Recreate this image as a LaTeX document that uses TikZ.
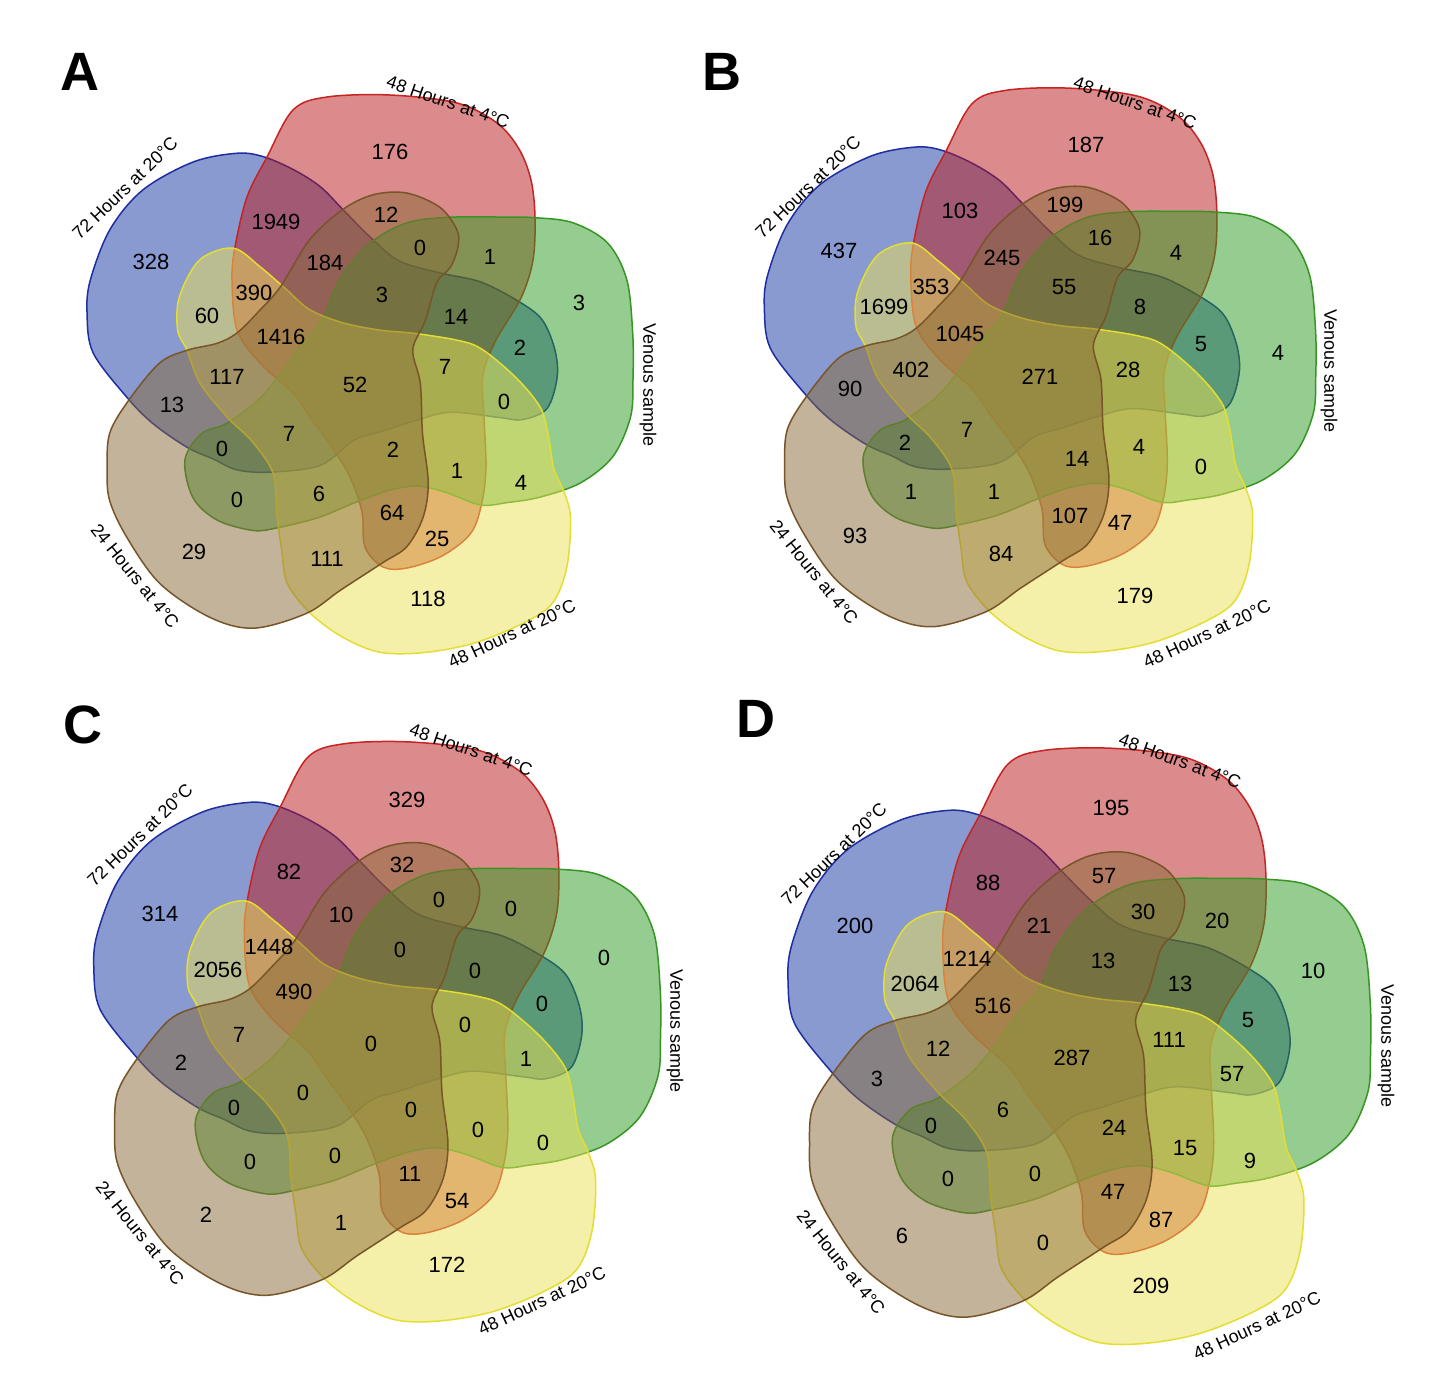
\documentclass[tikz,border=0pt]{standalone}
\usepackage{fontspec}
\setmainfont{Liberation Sans}
\definecolor{bfill}{RGB}{21,55,165}
\definecolor{bline}{RGB}{30,45,160}
\definecolor{rfill}{RGB}{185,25,25}
\definecolor{rline}{RGB}{200,35,35}
\definecolor{gfill}{RGB}{45,155,35}
\definecolor{gline}{RGB}{55,150,35}
\definecolor{yfill}{RGB}{235,225,85}
\definecolor{yline}{RGB}{228,222,50}
\definecolor{nfill}{RGB}{135,105,55}
\definecolor{nline}{RGB}{120,85,40}
\tikzset{
  vset/.style={line width=1.5pt, fill opacity=0.5},
  num/.style={font=\fontsize{22}{22}\selectfont, inner sep=0pt},
  setlab/.style={font=\fontsize{18}{18}\selectfont, inner sep=0pt},
  plet/.style={font=\fontsize{54}{54}\selectfont\bfseries, inner sep=0pt},
}
% each set outline, given in the upright (red) orientation around the centre
\newcommand\blueset{\path[vset, rotate=72, fill=bfill, draw=bline] plot[smooth cycle, tension=0.55] coordinates {
 (8,-282) (62,-279) (110,-260) (152,-221) (174,-182) (179,-156) (176,-123) (168,-92)
 (153,-63) (136,-30) (122,5) (123,48) (127,90) (120,133) (110,160) (86,181) (60,192)
 (27,192) (9,172) (4,150) (-6,102) (-24,72) (-47,40) (-63,18) (-97,-6) (-119,-52)
 (-127,-84) (-124,-110) (-121,-138) (-109,-178) (-92,-211) (-60,-257) (-24,-275)};}
\newcommand\redset{\path[vset, fill=rfill, draw=rline] plot[smooth cycle, tension=0.55] coordinates {
 (34,-280) (101,-272) (141,-252) (163,-226) (175,-195) (179,-158) (177,-115)
 (165,-77) (140,-35) (127,0) (128,42) (130,92) (126,127) (115,158) (86,181)
 (51,193) (27,192) (9,172) (6,137) (-6,102) (-24,72) (-44,45) (-63,18) (-96,-12)
 (-119,-45) (-124,-95) (-121,-128) (-109,-178) (-89,-218) (-63,-265) (-29,-278)};}
\newcommand\greenset{\path[vset, rotate=-72, fill=gfill, draw=gline] plot[smooth cycle, tension=0.55] coordinates {
 (-7,-287) (46,-276) (90,-262) (125,-248) (157,-219) (172,-180) (173,-137) (168,-104)
 (162,-78) (140,-50) (125,-25) (120,3) (121,40) (124,80) (121,122) (116,146) (95,177)
 (66,193) (28,189) (8,165) (6,138) (-6,102) (-24,72) (-44,45) (-63,15) (-96,-14)
 (-121,-54) (-129,-96) (-121,-138) (-106,-185) (-95,-217) (-78,-253) (-48,-280)};}
\newcommand\yellowset{\path[vset, rotate=-144, fill=yfill, draw=yline] plot[smooth cycle, tension=0.55] coordinates {
 (-25,-300) (11,-299) (63,-286) (109,-264) (144,-238) (165,-204) (177,-166) (178,-128)
 (163,-98) (147,-68) (125,-31) (123,6) (129,42) (131,85) (122,120) (118,141) (97,167)
 (59,185) (25,175) (14,144) (6,110) (-1,80) (-20,50) (-46,22) (-71,0) (-102,-31)
 (-117,-53) (-128,-97) (-130,-135) (-120,-162) (-105,-192) (-100,-215) (-90,-241) (-58,-279)};}
\newcommand\brownset{\path[vset, rotate=144, fill=nfill, draw=nline] plot[smooth cycle, tension=0.55] coordinates {
 (-24,-282) (36,-284) (90,-266) (126,-246) (147,-221) (165,-192) (169,-156) (166,-106)
 (151,-79) (131,-56) (121,-36) (116,-5) (113,27) (117,82) (108,126) (92,156) (66,177)
 (31,185) (4,177) (-7,164) (-13,143) (-11,122) (-24,85) (-31,54) (-57,31) (-88,-8)
 (-122,-45) (-138,-76) (-142,-109) (-132,-136) (-114,-183) (-100,-222) (-66,-265)};}
\newcommand\vennfive[2]{%
 \begin{scope}[shift={#1}, scale=#2]
  \blueset \redset \greenset \yellowset \brownset
 \end{scope}}
\begin{document}
\begin{tikzpicture}[x=1pt,y=-1pt]
\useasboundingbox (0,0) rectangle (1446,1390);
\fill[white] (0,0) rectangle (1446,1390);
\vennfive{(356,375)}{1}
\vennfive{(1036,371)}{1.01}
\vennfive{(373,1032.5)}{1.038}
\vennfive{(1075,1047)}{1.067}
% panel letters
\node[plet] (pA) at (80,72) {A};
\node[plet] (pB) at (722,72) {B};
\node[plet] (pC) at (83,725) {C};
\node[plet] (pD) at (756,719) {D};
% set labels A
\node[setlab,rotate=44] (aL1) at (125,188) {72 Hours at 20°C};
\node[setlab,rotate=-19] (aL2) at (448,102) {48 Hours at 4°C};
\node[setlab,rotate=-90] (aL3) at (648,385) {Venous sample};
\node[setlab,rotate=-51] (aL4) at (135,576) {24 Hours at 4°C};
\node[setlab,rotate=25] (aL5) at (512,634) {48 Hours at 20°C};
% set labels B
\node[setlab,rotate=44] (bL1) at (808,187) {72 Hours at 20°C};
\node[setlab,rotate=-19] (bL2) at (1135,103) {48 Hours at 4°C};
\node[setlab,rotate=-90] (bL3) at (1329,371) {Venous sample};
\node[setlab,rotate=-51] (bL4) at (814,572) {24 Hours at 4°C};
\node[setlab,rotate=25] (bL5) at (1207,634) {48 Hours at 20°C};
% set labels C
\node[setlab,rotate=44] (cL1) at (140,835) {72 Hours at 20°C};
\node[setlab,rotate=-19] (cL2) at (471,750) {48 Hours at 4°C};
\node[setlab,rotate=-90] (cL3) at (675,1031) {Venous sample};
\node[setlab,rotate=-51] (cL4) at (140,1233) {24 Hours at 4°C};
\node[setlab,rotate=25] (cL5) at (542,1301) {48 Hours at 20°C};
% set labels D
\node[setlab,rotate=44] (dL1) at (834,854) {72 Hours at 20°C};
\node[setlab,rotate=-20] (dL2) at (1180,761) {48 Hours at 4°C};
\node[setlab,rotate=-90] (dL3) at (1386,1046) {Venous sample};
\node[setlab,rotate=-51] (dL4) at (841,1262) {24 Hours at 4°C};
\node[setlab,rotate=25] (dL5) at (1257,1326) {48 Hours at 20°C};
% numbers A
\node[num] (a1) at (390,152) {176};
\node[num] (a2) at (276,222) {1949};
\node[num] (a3) at (386,215) {12};
\node[num] (a4) at (151,262) {328};
\node[num] (a5) at (325,263) {184};
\node[num] (a6) at (420,248) {0};
\node[num] (a7) at (490,257) {1};
\node[num] (a8) at (579,303) {3};
\node[num] (a9) at (207,316) {60};
\node[num] (a10) at (254,293) {390};
\node[num] (a11) at (382,295) {3};
\node[num] (a12) at (456,317) {14};
\node[num] (a13) at (281,337) {1416};
\node[num] (a14) at (520,348) {2};
\node[num] (a15) at (227,377) {117};
\node[num] (a16) at (355,385) {52};
\node[num] (a17) at (445,367) {7};
\node[num] (a18) at (172,405) {13};
\node[num] (a19) at (504,402) {0};
\node[num] (a20) at (289,434) {7};
\node[num] (a21) at (222,449) {0};
\node[num] (a22) at (393,450) {2};
\node[num] (a23) at (457,471) {1};
\node[num] (a24) at (521,483) {4};
\node[num] (a25) at (237,500) {0};
\node[num] (a26) at (319,494) {6};
\node[num] (a27) at (392,513) {64};
\node[num] (a28) at (437,539) {25};
\node[num] (a29) at (194,552) {29};
\node[num] (a30) at (327,559) {111};
\node[num] (a31) at (428,599) {118};
% numbers B
\node[num] (b1) at (1086,145) {187};
\node[num] (b2) at (960,211) {103};
\node[num] (b3) at (1065,205) {199};
\node[num] (b4) at (839,251) {437};
\node[num] (b5) at (1002,258) {245};
\node[num] (b6) at (1100,238) {16};
\node[num] (b7) at (1176,253) {4};
\node[num] (b8) at (931,287) {353};
\node[num] (b9) at (1064,287) {55};
\node[num] (b10) at (884,307) {1699};
\node[num] (b11) at (1140,307) {8};
\node[num] (b12) at (960,334) {1045};
\node[num] (b13) at (1201,344) {5};
\node[num] (b14) at (1278,353) {4};
\node[num] (b15) at (911,370) {402};
\node[num] (b16) at (1040,377) {271};
\node[num] (b17) at (1128,370) {28};
\node[num] (b18) at (850,389) {90};
\node[num] (b19) at (967,430) {7};
\node[num] (b20) at (905,443) {2};
\node[num] (b21) at (1077,459) {14};
\node[num] (b22) at (1139,447) {4};
\node[num] (b23) at (1201,467) {0};
\node[num] (b24) at (911,492) {1};
\node[num] (b25) at (994,492) {1};
\node[num] (b26) at (1070,516) {107};
\node[num] (b27) at (1120,523) {47};
\node[num] (b28) at (855,536) {93};
\node[num] (b29) at (1001,554) {84};
\node[num] (b30) at (1135,596) {179};
% numbers C
\node[num] (c1) at (407,800) {329};
\node[num] (c2) at (289,872) {82};
\node[num] (c3) at (402,865) {32};
\node[num] (c4) at (160,914) {314};
\node[num] (c5) at (341,915) {10};
\node[num] (c6) at (439,900) {0};
\node[num] (c7) at (511,909) {0};
\node[num] (c8) at (604,958) {0};
\node[num] (c9) at (269,947) {1448};
\node[num] (c10) at (400,950) {0};
\node[num] (c11) at (218,970) {2056};
\node[num] (c12) at (475,971) {0};
\node[num] (c13) at (294,992) {490};
\node[num] (c14) at (542,1004) {0};
\node[num] (c15) at (239,1035) {7};
\node[num] (c16) at (371,1044) {0};
\node[num] (c17) at (465,1025) {0};
\node[num] (c18) at (526,1059) {1};
\node[num] (c19) at (181,1063) {2};
\node[num] (c20) at (303,1093) {0};
\node[num] (c21) at (234,1108) {0};
\node[num] (c22) at (411,1110) {0};
\node[num] (c23) at (478,1130) {0};
\node[num] (c24) at (543,1143) {0};
\node[num] (c25) at (250,1162) {0};
\node[num] (c26) at (335,1156) {0};
\node[num] (c27) at (410,1174) {11};
\node[num] (c28) at (457,1201) {54};
\node[num] (c29) at (206,1215) {2};
\node[num] (c30) at (341,1223) {1};
\node[num] (c31) at (447,1265) {172};
% numbers D
\node[num] (d1) at (1111,808) {195};
\node[num] (d2) at (988,883) {88};
\node[num] (d3) at (1104,876) {57};
\node[num] (d4) at (855,926) {200};
\node[num] (d5) at (1039,926) {21};
\node[num] (d6) at (1143,912) {30};
\node[num] (d7) at (1217,921) {20};
\node[num] (d8) at (967,959) {1214};
\node[num] (d9) at (1103,961) {13};
\node[num] (d10) at (1313,971) {10};
\node[num] (d11) at (915,984) {2064};
\node[num] (d12) at (1180,984) {13};
\node[num] (d13) at (993,1006) {516};
\node[num] (d14) at (1248,1020) {5};
\node[num] (d15) at (1169,1040) {111};
\node[num] (d16) at (938,1049) {12};
\node[num] (d17) at (1072,1058) {287};
\node[num] (d18) at (1232,1074) {57};
\node[num] (d19) at (877,1079) {3};
\node[num] (d20) at (1003,1110) {6};
\node[num] (d21) at (931,1126) {0};
\node[num] (d22) at (1114,1128) {24};
\node[num] (d23) at (1185,1148) {15};
\node[num] (d24) at (1250,1161) {9};
\node[num] (d25) at (948,1179) {0};
\node[num] (d26) at (1035,1174) {0};
\node[num] (d27) at (1113,1192) {47};
\node[num] (d28) at (1161,1220) {87};
\node[num] (d29) at (902,1236) {6};
\node[num] (d30) at (1043,1243) {0};
\node[num] (d31) at (1151,1286) {209};
\end{tikzpicture}
\end{document}
